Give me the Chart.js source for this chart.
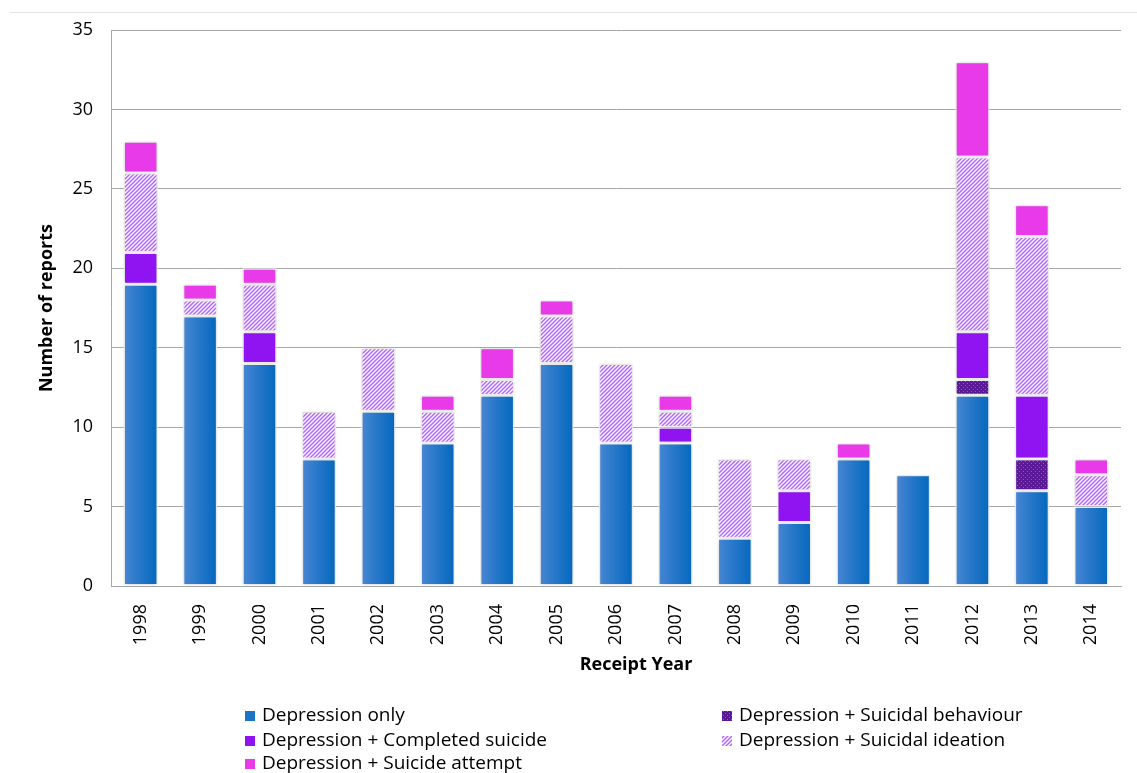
<!DOCTYPE html>
<html>
<head>
<meta charset="utf-8">
<title>Depression reports by receipt year</title>
<script src="https://cdn.jsdelivr.net/npm/chart.js@4.4.1/dist/chart.umd.min.js"></script>
<style>
  html, body { margin: 0; padding: 0; background: #ffffff; }
  #wrap { width: 1137px; height: 773px; position: relative; }
  canvas { display: block; }
</style>
</head>
<body>
<div id="wrap"><canvas id="chart" width="1137" height="773"></canvas></div>
<script>
// Report counts per receipt year, one array per report category
const years = ['1998','1999','2000','2001','2002','2003','2004','2005','2006','2007','2008','2009','2010','2011','2012','2013','2014'];
const depressionOnly    = [19,17,14, 8,11, 9,12,14, 9, 9, 3, 4, 8, 7,12, 6, 5];
const suicidalBehaviour = [ 0, 0, 0, 0, 0, 0, 0, 0, 0, 0, 0, 0, 0, 0, 1, 2, 0];
const completedSuicide  = [ 2, 0, 2, 0, 0, 0, 0, 0, 0, 1, 0, 2, 0, 0, 3, 4, 0];
const suicidalIdeation  = [ 5, 1, 3, 3, 4, 2, 1, 3, 5, 1, 5, 2, 0, 0,11,10, 2];
const suicideAttempt    = [ 2, 1, 1, 0, 0, 1, 2, 1, 0, 1, 0, 0, 1, 0, 6, 2, 1];

const seriesNames = {
  only: 'Depression only',
  behaviour: 'Depression + Suicidal behaviour',
  completed: 'Depression + Completed suicide',
  ideation: 'Depression + Suicidal ideation',
  attempt: 'Depression + Suicide attempt'
};
const yMin = 0, yMax = 35, yStep = 5;

const FONT = '"Open Sans", "DejaVu Sans", sans-serif';

// Fill patterns
function hatchPattern() {
  const t = document.createElement('canvas');
  t.width = 4; t.height = 4;
  const c = t.getContext('2d');
  c.fillStyle = '#ffffff';
  c.fillRect(0, 0, 4, 4);
  c.strokeStyle = '#b266f5';
  c.lineWidth = 1.5;
  c.beginPath();
  c.moveTo(0, 4); c.lineTo(4, 0);
  c.moveTo(-1, 1); c.lineTo(1, -1);
  c.moveTo(3, 5); c.lineTo(5, 3);
  c.stroke();
  return c.createPattern(t, 'repeat');
}
function dotPattern() {
  const t = document.createElement('canvas');
  t.width = 4; t.height = 4;
  const c = t.getContext('2d');
  c.fillStyle = '#5a1896';
  c.fillRect(0, 0, 4, 4);
  c.fillStyle = '#9a5ad6';
  c.fillRect(1, 1, 1, 1);
  c.fillRect(3, 3, 1, 1);
  return c.createPattern(t, 'repeat');
}
const hatch = hatchPattern();
const dots = dotPattern();

const solid = {
  only: '#1a73c6',
  behaviour: dots,
  completed: '#9013f2',
  ideation: hatch,
  attempt: '#e83ae8'
};

// Blue bars shade from lighter on the left edge to darker on the right
function blueFill(ctx) {
  const chart = ctx.chart;
  const area = chart.chartArea;
  if (!area || ctx.dataIndex === undefined || !chart.scales.x) return solid.only;
  const cx = chart.scales.x.getPixelForValue(ctx.dataIndex);
  const g = chart.ctx.createLinearGradient(cx - 17, 0, cx + 17, 0);
  g.addColorStop(0, '#4887d3');
  g.addColorStop(0.5, '#2476c8');
  g.addColorStop(1, '#0468bd');
  return g;
}

const barStyle = {
  borderColor: 'rgba(255,255,255,0.95)',
  borderWidth: 1.5,
  borderSkipped: false,
  barPercentage: 0.58,
  categoryPercentage: 1.0
};

// Page frame line, bar glow, x-axis title and the two-column key
const decorations = {
  id: 'decorations',
  beforeDraw(chart) {
    const c = chart.ctx;
    c.save();
    c.strokeStyle = '#e3e3e3';
    c.lineWidth = 1;
    c.beginPath();
    c.moveTo(10, 12.5);
    c.lineTo(1137, 12.5);
    c.stroke();
    c.restore();
  },
  beforeDatasetsDraw(chart) {
    const c = chart.ctx;
    c.save();
    c.shadowColor = 'rgba(0,0,0,0.22)';
    c.shadowBlur = 4;
  },
  afterDatasetsDraw(chart) {
    chart.ctx.restore();
  },
  afterDraw(chart) {
    const c = chart.ctx;
    c.save();
    c.fillStyle = '#000000';
    c.font = 'bold 18px ' + FONT;
    c.textAlign = 'center';
    c.textBaseline = 'middle';
    c.fillText('Receipt Year', 636, 665);

    const items = [
      { key: 'only', x: 245, y: 716 },
      { key: 'completed', x: 245, y: 741 },
      { key: 'attempt', x: 245, y: 764 },
      { key: 'behaviour', x: 722, y: 716 },
      { key: 'ideation', x: 722, y: 741 }
    ];
    c.font = '19px ' + FONT;
    c.textAlign = 'left';
    items.forEach(it => {
      c.fillStyle = solid[it.key];
      c.fillRect(it.x, it.y - 5, 10, 10);
      c.fillStyle = '#000000';
      c.fillText(seriesNames[it.key], it.x + 17, it.y);
    });
    c.restore();
  }
};

new Chart(document.getElementById('chart'), {
  type: 'bar',
  data: {
    labels: years,
    datasets: [
      Object.assign({ label: seriesNames.only, data: depressionOnly, backgroundColor: blueFill }, barStyle),
      Object.assign({ label: seriesNames.behaviour, data: suicidalBehaviour, backgroundColor: solid.behaviour }, barStyle),
      Object.assign({ label: seriesNames.completed, data: completedSuicide, backgroundColor: solid.completed }, barStyle),
      Object.assign({ label: seriesNames.ideation, data: suicidalIdeation, backgroundColor: solid.ideation }, barStyle),
      Object.assign({ label: seriesNames.attempt, data: suicideAttempt, backgroundColor: solid.attempt }, barStyle)
    ]
  },
  options: {
    responsive: false,
    animation: false,
    layout: { padding: { left: 0, top: 30, right: 16, bottom: 0 } },
    plugins: {
      legend: { display: false },
      tooltip: { enabled: false }
    },
    scales: {
      x: {
        stacked: true,
        grid: { display: false },
        border: { display: true, color: '#a6a6a6', width: 1 },
        ticks: {
          color: '#000000',
          font: { family: FONT, size: 18 },
          minRotation: 90,
          maxRotation: 90,
          padding: 10,
          autoSkip: false
        },
        afterFit(s) { s.height = 187; }
      },
      y: {
        stacked: true,
        min: yMin,
        max: yMax,
        grid: { color: '#a6a6a6', lineWidth: 1, drawTicks: false },
        border: { display: true, color: '#a6a6a6', width: 1 },
        ticks: {
          stepSize: yStep,
          color: '#000000',
          font: { family: FONT, size: 18 },
          padding: 18
        },
        title: {
          display: true,
          text: 'Number of reports',
          color: '#000000',
          font: { family: FONT, size: 18, weight: 'bold' },
          padding: { top: 36, bottom: 0 }
        },
        afterFit(s) { s.width = 111; }
      }
    }
  },
  plugins: [decorations]
});
</script>
</body>
</html>
